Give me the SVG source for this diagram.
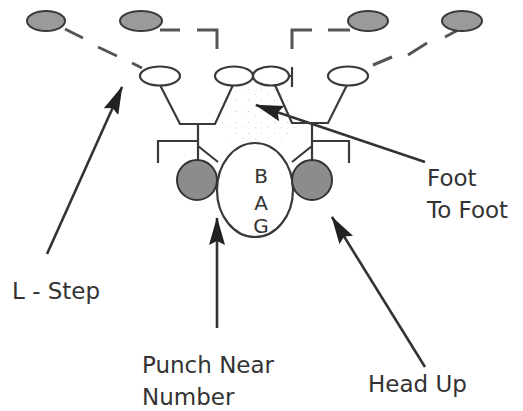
<svg xmlns="http://www.w3.org/2000/svg" width="523" height="411" viewBox="0 0 523 411">
<style>
.dash{fill:none;stroke:#555;stroke-width:3;stroke-linecap:butt}
.fig{fill:none;stroke:#3a3a3a;stroke-width:2.2;stroke-linejoin:miter}
.wo{fill:#fff;stroke:#3a3a3a;stroke-width:2.2}
.go{fill:#9a9a9a;stroke:#3a3a3a;stroke-width:2}
.gc{fill:#8c8c8c;stroke:#333;stroke-width:2}
.arr{fill:none;stroke:#333;stroke-width:2.6}
.lbl{font-family:"DejaVu Sans",Verdana,sans-serif;font-size:23px;fill:#333}
.bag{font-family:"DejaVu Sans",Verdana,sans-serif;font-size:20px;fill:#333;text-anchor:middle}
</style>
<defs>
<marker id="ah" markerUnits="userSpaceOnUse" markerWidth="28" markerHeight="16" refX="27" refY="8" orient="auto">
<path d="M0,0 L28,8 L0,16 L4,8 Z" fill="#222"/>
</marker>
<pattern id="stip" width="13" height="11" patternUnits="userSpaceOnUse">
<rect x="1" y="1" width="1" height="1" fill="#c8c8c8"/>
<rect x="8" y="6" width="1" height="1" fill="#d4d4d4"/>
</pattern>
</defs>
<polygon points="238,88 286,88 300,122 292,140 240,148 218,128" fill="url(#stip)"/>
<g id="connectors">
<path class="dash" d="M65,29 L83,38 M98,47 L117,56 M132,63 L142,68"/>
<path class="dash" d="M160,30 H180 M197,30 H217 V49"/>
<path class="dash" d="M350,30 H328 M312,30 H292 V49"/>
<path class="dash" d="M460,29 L445,37 M427,43 L408,55 M392,57 L373,65"/>
<line class="arr" x1="47" y1="254" x2="122" y2="87" marker-end="url(#ah)"/>
<line class="arr" x1="217" y1="328" x2="217" y2="218" marker-end="url(#ah)"/>
<line class="arr" x1="425" y1="367" x2="332" y2="217" marker-end="url(#ah)"/>
<line class="arr" x1="425" y1="162" x2="256" y2="105" marker-end="url(#ah)"/>
</g>
<g id="opp1"><ellipse class="go" cx="46" cy="21" rx="19" ry="10"/></g>
<g id="opp2"><ellipse class="go" cx="141" cy="21" rx="21" ry="10"/></g>
<g id="opp3"><ellipse class="go" cx="368" cy="21" rx="20" ry="10"/></g>
<g id="opp4"><ellipse class="go" cx="462" cy="21" rx="20" ry="10"/></g>
<g id="left-player">
<path class="fig" d="M160,85 L180,124 H215 L233,85 M198,124 V160 M158,163 V141 H198 M198,146 L218,162"/>
<ellipse class="wo" cx="160" cy="76" rx="20" ry="9.5"/>
<ellipse class="wo" cx="234" cy="76" rx="19" ry="9.5"/>
</g>
<g id="right-player">
<path class="fig" d="M275,85 L292,123 H328 L347,85 M312,123 V160 M349,163 V141 H312 M312,146 L292,162"/>
<path class="fig" d="M289,76 H292 M292,67 V87"/>
<ellipse class="wo" cx="271" cy="76" rx="18" ry="9.5"/>
<ellipse class="wo" cx="348" cy="76" rx="20" ry="9.5"/>
</g>
<g id="bag">
<ellipse class="wo" cx="255" cy="190" rx="38" ry="47"/>
<text class="bag" x="261" y="183">B</text>
<text class="bag" x="261" y="210">A</text>
<text class="bag" x="261" y="233">G</text>
</g>
<g id="left-hand"><circle class="gc" cx="197" cy="180" r="20"/></g>
<g id="right-hand"><circle class="gc" cx="312" cy="180" r="20"/></g>
<g id="labels">
<text class="lbl" x="427" y="186">Foot</text>
<text class="lbl" x="427" y="218">To Foot</text>
<text class="lbl" x="12" y="299">L - Step</text>
<text class="lbl" x="142" y="373">Punch Near</text>
<text class="lbl" x="142" y="405">Number</text>
<text class="lbl" x="368" y="392">Head Up</text>
</g>
</svg>
